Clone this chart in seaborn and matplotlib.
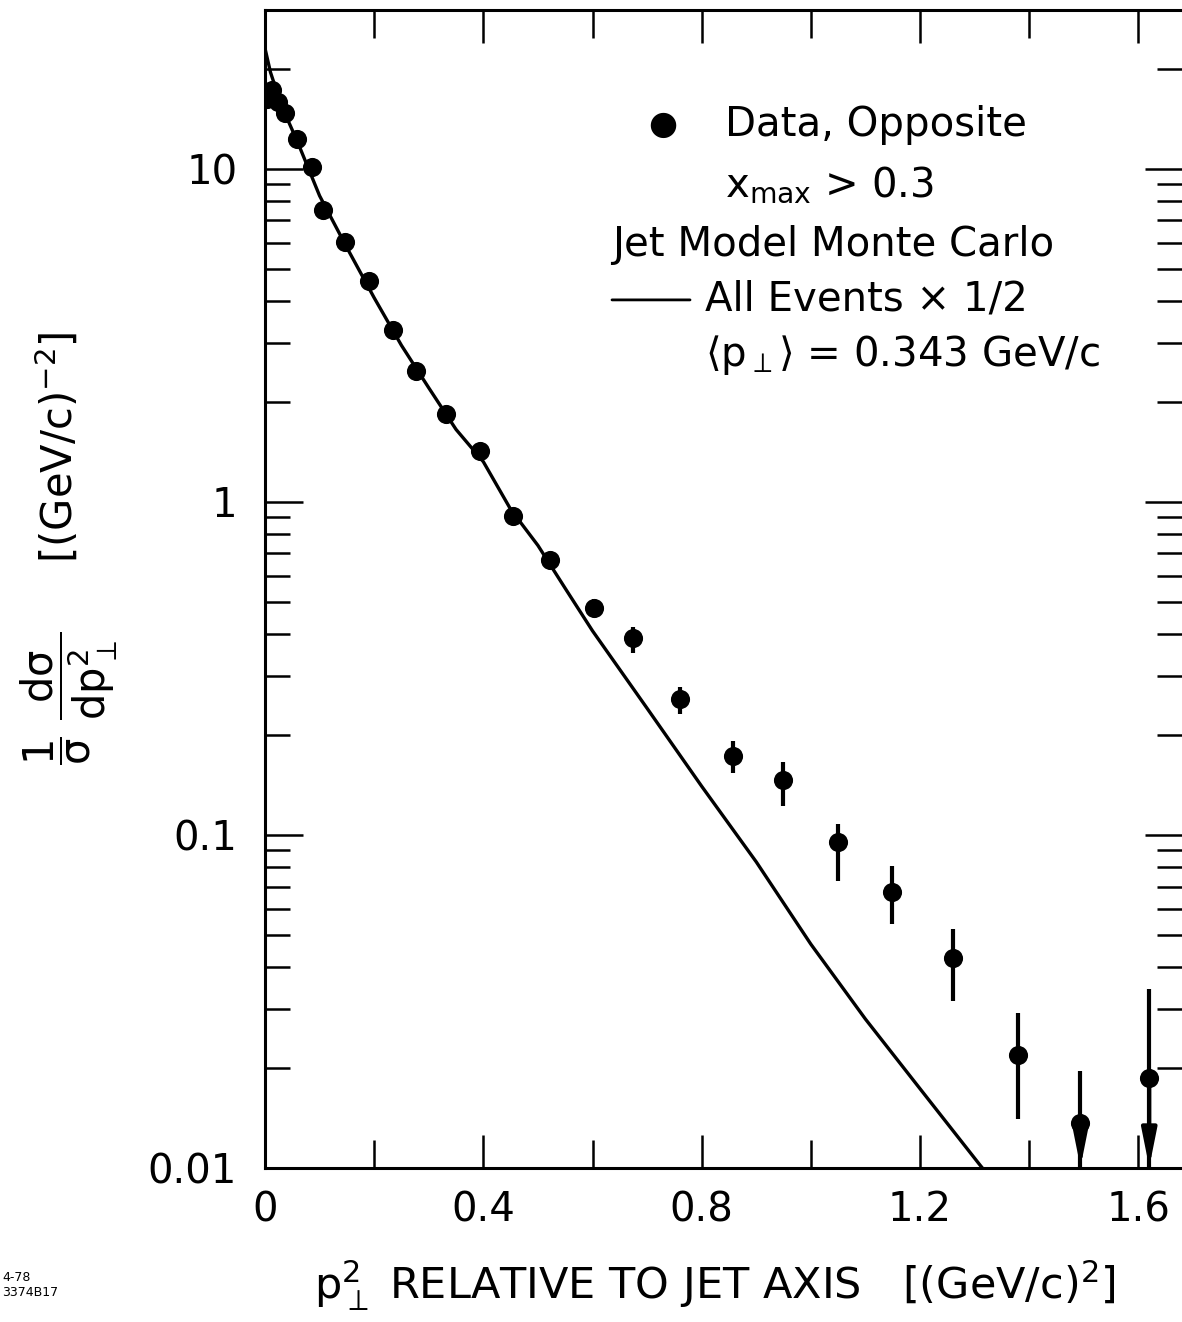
import seaborn as sns
import pandas as pd
import matplotlib.pyplot as plt
import matplotlib.ticker as mticker
import numpy as np

# data
pt2 = [0.003, 0.012, 0.024, 0.037, 0.058, 0.086, 0.107, 0.147, 0.190, 0.235, 0.277,
       0.332, 0.393, 0.455, 0.523, 0.602, 0.675, 0.760, 0.857, 0.949, 1.050, 1.149,
       1.261, 1.380, 1.494, 1.620]
dsig = [16.2, 17.2, 15.9, 14.7, 12.3, 10.1, 7.5, 6.05, 4.62, 3.29, 2.48,
        1.84, 1.42, 0.908, 0.67, 0.48, 0.39, 0.256, 0.173, 0.146, 0.095, 0.0673,
        0.0428, 0.0218, 0.01365, 0.0186]
err_hi = [None] * 15 + [0.51, 0.42, 0.278, 0.191, 0.165, 0.1075, 0.0806, 0.0523,
                        0.0292, 0.0196, 0.0345]
err_lo = [None] * 15 + [0.45, 0.352, 0.231, 0.153, 0.122, 0.0726, 0.0539, 0.0318,
                        0.0140, None, None]
upper_limit = [False] * 24 + [True, True]

mc_x = [0.0, 0.01, 0.03, 0.06, 0.1, 0.15, 0.2, 0.25, 0.3, 0.35, 0.4, 0.45, 0.5,
        0.55, 0.6, 0.7, 0.8, 0.9, 1.0, 1.1, 1.2, 1.31, 1.33]
mc_y = [23, 19.5, 15.5, 12.0, 8.3, 5.8, 4.1, 2.95, 2.2, 1.65, 1.32, 0.95, 0.74,
        0.55, 0.41, 0.24, 0.14, 0.083, 0.047, 0.028, 0.0173, 0.0102, 0.0093]

x_ticks = [0, 0.4, 0.8, 1.2, 1.6]
y_ticks = [0.01, 0.1, 1, 10]
y_ticklabels = ['0.01', '0.1', '1', '10']

sns.set_style('ticks')
plt.rcParams['font.family'] = ['DejaVu Sans']
plt.rcParams['mathtext.fontset'] = 'dejavusans'
plt.rcParams['text.color'] = 'k'
plt.rcParams['axes.labelcolor'] = 'k'
plt.rcParams['xtick.color'] = 'k'
plt.rcParams['ytick.color'] = 'k'

fig = plt.figure(figsize=(11.82, 13.22), dpi=100)
ax = fig.add_axes([0.2242, 0.1165, 0.7758, 0.876])
ax.set_yscale('log')

df = pd.DataFrame({'pt2': pt2, 'dsig': dsig})
mc = pd.DataFrame({'x': mc_x, 'y': mc_y})

sns.lineplot(data=mc, x='x', y='y', ax=ax, color='k', lw=2.4)
sns.scatterplot(data=df, x='pt2', y='dsig', ax=ax, color='k', s=190,
                edgecolor='k', linewidth=0, zorder=5)

ymin, ymax = 0.01, 30
for x, y, hi, lo, ul in zip(pt2, dsig, err_hi, err_lo, upper_limit):
    if hi is None:
        continue
    bottom = ymin if ul else lo
    ax.vlines(x, bottom, hi, color='k', lw=3, zorder=4)
    if ul:
        ax.annotate('', xy=(x, ymin * 1.005), xytext=(x, y),
                    arrowprops=dict(arrowstyle='-|>,head_length=0.9,head_width=0.18',
                                    color='k', lw=3, mutation_scale=25,
                                    shrinkA=0, shrinkB=0), zorder=4)

ax.set_xlim(0, 1.68)
ax.set_ylim(ymin, ymax)

ax.xaxis.set_major_locator(mticker.FixedLocator(x_ticks))
ax.xaxis.set_minor_locator(mticker.MultipleLocator(0.2))
ax.xaxis.set_major_formatter(mticker.FuncFormatter(lambda v, p: '0' if v == 0 else f'{v:.1f}'))
ax.yaxis.set_major_locator(mticker.FixedLocator(y_ticks))
ax.yaxis.set_major_formatter(mticker.FixedFormatter(y_ticklabels))
ax.yaxis.set_minor_locator(mticker.LogLocator(base=10, subs=range(2, 10)))
ax.yaxis.set_minor_formatter(mticker.NullFormatter())

ax.tick_params(axis='both', which='both', direction='in', top=True, right=True,
               width=1.8, color='k', labelcolor='k', labelsize=29)
ax.tick_params(axis='x', which='major', length=24, pad=16)
ax.tick_params(axis='x', which='minor', length=20)
ax.tick_params(axis='y', which='major', length=27, pad=20)
ax.tick_params(axis='y', which='minor', length=18)

for side in ['left', 'bottom', 'top']:
    ax.spines[side].set_linewidth(2.2)
    ax.spines[side].set_color('k')
ax.spines['right'].set_visible(False)

ax.set_xlabel(r'$\mathrm{p}_{\perp}^{2}$ RELATIVE TO JET AXIS   $\left[(\mathrm{GeV/c})^{2}\right]$',
              fontsize=31)
ax.xaxis.set_label_coords(0.49, -0.078)
ax.set_ylabel(r'$\dfrac{1}{\mathrm{\sigma}}\ \dfrac{\mathrm{d\sigma}}{\mathrm{dp}_{\perp}^{2}}$'
              r'     $\left[(\mathrm{GeV/c})^{-2}\right]$',
              fontsize=30)
ax.yaxis.set_label_coords(-0.158, 0.535)

# legend block written as text
fs = 29
ax.text(0.434, 0.9007, '\u25cf', transform=ax.transAxes, ha='center', va='center', fontsize=24)
ax.text(0.5016, 0.9007, 'Data, Opposite', transform=ax.transAxes, va='center', fontsize=fs)
ax.text(0.5016, 0.849, r'$\mathrm{x}_{\mathrm{max}}$ > 0.3', transform=ax.transAxes,
        va='center', fontsize=fs)
ax.text(0.3784, 0.797, 'Jet Model Monte Carlo', transform=ax.transAxes, va='center', fontsize=fs)
ax.annotate('', xy=(0.4635, 0.7496), xytext=(0.3784, 0.7496), xycoords='axes fraction',
            arrowprops=dict(arrowstyle='-', color='k', lw=2, shrinkA=0, shrinkB=0))
ax.text(0.4798, 0.7496, 'All Events \u00d7 1/2', transform=ax.transAxes, va='center', fontsize=fs)
ax.text(0.4798, 0.702, r'$\langle \mathrm{p}_{\perp} \rangle$ = 0.343 GeV/c',
        transform=ax.transAxes, va='center', fontsize=fs)

fig.text(0.002, 0.028, '4-78\n3374B17', fontsize=9, va='center', ha='left')

fig.savefig('out.png', dpi=100)
